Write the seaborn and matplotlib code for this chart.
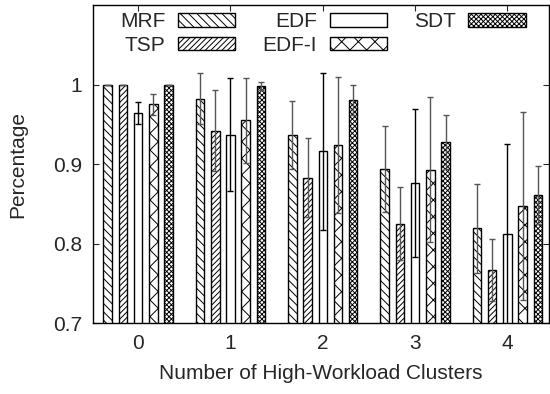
import numpy as np
import pandas as pd
import matplotlib
matplotlib.use("Agg")
import matplotlib.pyplot as plt
from matplotlib.patches import Patch
from matplotlib.ticker import FuncFormatter
import seaborn as sns

# ── Data ───────────────────────────────────────────────────────
clusters = ["0", "1", "2", "3", "4"]
methods = ["MRF", "TSP", "EDF", "EDF-I", "SDT"]

mrf = [1.000, 0.982, 0.937, 0.894, 0.819]
mrf_err = [0.000, 0.032, 0.043, 0.054, 0.056]
tsp = [1.000, 0.942, 0.883, 0.825, 0.767]
tsp_err = [0.000, 0.051, 0.050, 0.046, 0.039]
edf = [0.964, 0.937, 0.916, 0.876, 0.812]
edf_err = [0.014, 0.071, 0.099, 0.093, 0.113]
edfi = [0.975, 0.955, 0.924, 0.893, 0.847]
edfi_err = [0.013, 0.053, 0.085, 0.091, 0.118]
sdt = [1.000, 0.998, 0.981, 0.928, 0.861]
sdt_err = [0.000, 0.005, 0.019, 0.034, 0.036]

values = [mrf, tsp, edf, edfi, sdt]
errors = [mrf_err, tsp_err, edf_err, edfi_err, sdt_err]

# ── Style ──────────────────────────────────────────────────────
hatches = ["\\\\\\\\", "//////", "", "xx", "xxxxxxx"]
err_colors = ["#555555", "#555555", "black", "#555555", "#555555"]
FS = 15

sns.set_style("ticks")
plt.rcParams.update({
    "font.family": ["Liberation Sans", "DejaVu Sans"],
    "font.size": FS,
    "hatch.linewidth": 0.7,
    "axes.edgecolor": "black",
    "axes.linewidth": 1.0,
    "xtick.direction": "in",
    "ytick.direction": "in",
    "xtick.top": True,
    "ytick.right": True,
    "xtick.major.size": 4,
    "ytick.major.size": 4,
})

df = pd.DataFrame({
    "cluster": np.repeat([clusters], len(methods), axis=0).ravel(),
    "method": np.repeat(methods, len(clusters)),
    "value": np.concatenate(values),
})

fig = plt.figure(figsize=(5.5, 3.94), dpi=100)
ax = fig.add_axes([0.169, 0.180, 0.829, 0.807])

sns.barplot(data=df, x="cluster", y="value", hue="method",
            order=clusters, hue_order=methods, palette=["white"] * 5,
            edgecolor="black", linewidth=1.0, width=0.825, gap=0.44,
            errorbar=None, legend=False, ax=ax)

for cont, h, vals, errs, ec in zip(ax.containers, hatches, values, errors, err_colors):
    for bar in cont:
        bar.set_hatch(h)
    centers = [b.get_x() + b.get_width() / 2 for b in cont]
    ax.errorbar(centers, vals, yerr=errs, fmt="none", ecolor=ec,
                elinewidth=1.0, capsize=2.5, capthick=1.0, zorder=3)

ax.set_ylim(0.7, 1.1)
ax.set_xlim(-0.49, 4.45)
ax.set_yticks([0.7, 0.8, 0.9, 1.0])
ax.yaxis.set_major_formatter(FuncFormatter(lambda v, p: f"{v:g}"))
ax.set_xlabel("Number of High-Workload Clusters", fontsize=FS, labelpad=8)
ax.set_ylabel("Percentage", fontsize=FS, labelpad=18)
ax.tick_params(labelsize=FS, pad=8)
for s in ax.spines.values():
    s.set_visible(True)

handles = [Patch(facecolor="white", edgecolor="black", hatch=h, linewidth=1.0, label=m)
           for m, h in zip(methods, hatches)]
ax.legend(handles=handles, ncol=3, markerfirst=False, loc="upper left",
          bbox_to_anchor=(0.06, 0.977), frameon=False, fontsize=FS,
          handlelength=2.75, handleheight=0.6, handletextpad=0.6,
          columnspacing=1.3, labelspacing=0.2, borderpad=0, borderaxespad=0)

fig.savefig("out.png", dpi=100)
